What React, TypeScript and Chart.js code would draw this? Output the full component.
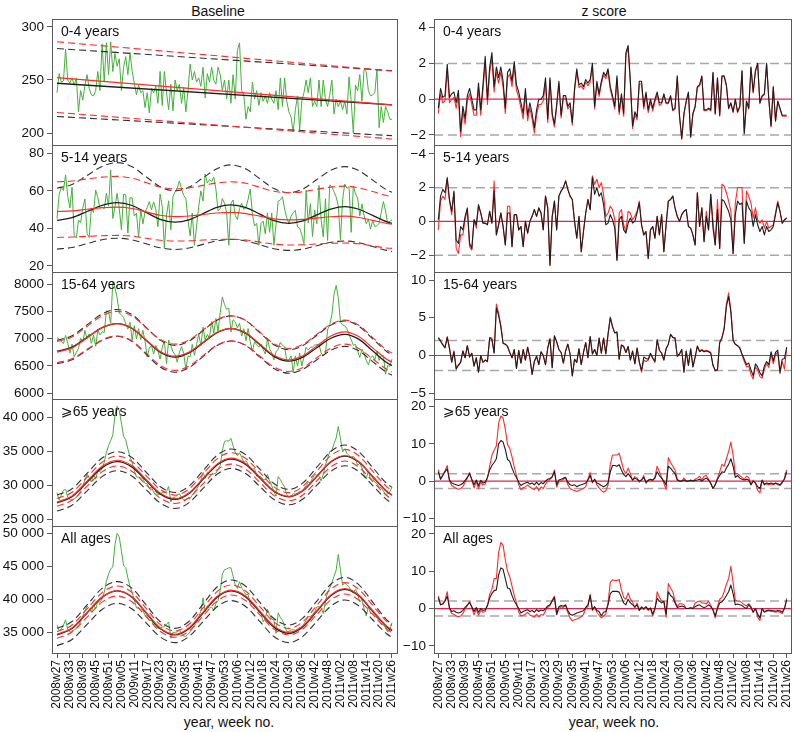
import React, { useEffect, useRef } from "react";
import { Chart, registerables } from "chart.js";
Chart.register(...registerables);

const FONT = '"Liberation Sans", Arial, Helvetica, "DejaVu Sans", sans-serif';

// ---------------- DATA ----------------
const columnTitles = ["Baseline", "z score"];
const xAxisTitle = "year, week no.";
const ageLabels = ["0-4 years", "5-14 years", "15-64 years", "\u2A7E65 years", "All ages"];

const weekTickIndex = [0, 6, 12, 18, 24, 30, 36, 42, 48, 54, 60, 66, 72, 78, 84, 90, 96, 102, 108, 114, 120, 126, 132, 138, 144, 150, 156];
const weekTickLabels = ["2008w27", "2008w33", "2008w39", "2008w45", "2008w51", "2009w05", "2009w11", "2009w17", "2009w23", "2009w29", "2009w35", "2009w41", "2009w47", "2009w53", "2010w06", "2010w12", "2010w18", "2010w24", "2010w30", "2010w36", "2010w42", "2010w48", "2011w02", "2011w08", "2011w14", "2011w20", "2011w26"];

const zThreshold = 2;

// observed weekly counts
const obs04 = [238,256,248,249,279,250,247,252,245,252, 220,240,231,245,255,242,236,235,240,258, 240,284,248,285,255,286,258,275,263,270, 240,262,272,255,276,258,247,236,245,238, 240,224,238,219,242,238,244,228,258,226, 258,238,222,246,221,250,240,246,228,243, 220,240,265,250,258,248,252,244,262,233, 256,248,262,250,246,262,255,240,250,232, 250,228,255,232,278,285,240,236,213,225, 220,248,232,240,226,238,230,235,228,238, 232,228,240,222,252,225,252,230,220,215, 201,222,235,203,230,238,250,238,252,225, 230,225,250,225,250,232,225,236,250,218, 232,225,230,222,230,218,253,230,200,245, 240,255,230,260,258,240,235,236,238,260, 205,225,210,225,220,213,213];
const obs514 = [45.2,58.0,61.8,60.2,68.5,57.0,50.9,61.9,36.3,34.9, 44.4,43.1,50.8,55.7,37.3,35.1,50.9,48.5,60.4,56.4, 50.8,51.3,50.5,58.7,51.9,71.1,45.3,51.5,58.7,50.5, 39.3,58.1,57.9,37.6,56.4,56.2,46.6,48.1,35.5,50.0, 42.4,48.8,51.1,54.3,49.9,54.1,50.4,40.9,58.3,51.8, 29.5,46.9,54.7,39.2,57.0,59.5,61.5,65.3,61.0,57.6, 56.0,44.5,36.0,48.2,31.0,41.2,51.6,60.0,54.6,69.0, 64.1,66.0,64.9,67.4,60.9,49.3,50.5,55.9,53.3,48.4, 31.0,53.3,55.1,46.9,44.7,50.5,53.3,50.1,51.1,55.6, 61.0,47.5,41.3,42.7,31.0,42.6,43.9,37.1,48.3,37.9, 48.2,31.0,42.1,54.5,55.2,56.8,50.3,45.6,42.7,46.5, 48.5,49.6,40.8,40.1,36.7,31.9,60.3,42.8,53.2,35.7, 49.7,42.5,62.9,44.4,35.4,55.8,33.6,63.1,62.3,59.5, 56.8,52.0,34.0,55.4,63.6,61.4,62.2,37.9,62.6,58.4, 56.2,46.7,53.0,46.8,42.5,44.9,39.6,44.2,41.0,41.4, 42.7,48.5,54.3,49.3,42.4,43.9,44.5];
const obs1564 = [7020,6990,6945,6910,7060,6920,6735,6900,6670,6750, 6820,7010,6940,7150,7000,7085,6915,7065,6860,7150, 7070,7130,7113,7510,7495,7280,8040,7930,7750,7463, 7438,7388,7275,7175,7300,6975,7238,7000,7183,6982, 7152,6952,6666,6828,6875,6721,6874,6786,6626,6844, 6958,6546,6974,6877,6760,6705,6570,6749,6855,6731, 6437,6680,6669,6895,6693,6897,7078,6875,7212,6975, 7077,7009,7313,7102,7370,7139,7476,7763,7624,7536, 7560,7121,7347,7309,7197,7284,7047,7181,6965,7185, 6940,6770,6945,6889,6846,6903,6805,6718,7004,6815, 6740,6613,6758,6808,6933,6878,6855,6590,6610,6684, 6380,6685,6497,6738,6498,6661,6842,6792,6841,6846, 6884,6890,6896,6738,6685,6724,7164,7260,7439,7810, 7977,7748,7303,7254,7236,7186,7077,6979,6882,6892, 6780,6656,6806,6728,6602,6524,6648,6690,6613,6767, 6602,6690,6690,6349,6505,6494,6625];
const obs65 = [28900,27830,28550,29280,29400,28220,27860,27810,28000,28190, 28620,29160,29950,30740,31650,31060,30470,31560,30960,32110, 32000,32430,33390,34860,35890,36620,37450,40400,41700,41000, 39210,37210,36730,35360,34200,33380,32170,31230,31200,31110, 30950,30290,30200,29540,29730,28930,29090,28600,28720,28900, 28910,29090,29810,27540,28200,28200,28510,28770,28120,27830, 27850,28100,28030,28540,28980,29430,29930,30740,31890,31010, 31890,31510,31630,31670,31790,32290,32910,35140,36460,36590, 36540,36950,35850,34900,34360,34810,34130,33380,33620,33100, 32450,32340,32490,31340,31360,31250,30830,30820,31620,30660, 29910,29105,28390,31270,30850,30240,29720,28590,28290,28430, 28740,28700,28830,29090,29100,29550,29940,30390,30420,31040, 31570,31500,31310,30660,31640,32950,33950,34980,35170,36150, 36990,38700,36870,34920,35370,34740,34400,34120,34300,33900, 32940,33260,32600,31600,30960,32120,30940,30930,30470,30270, 29740,29600,29140,28650,28720,29020,29700];
const obsAll = [36100,35250,35490,36060,36890,35400,35000,35250,35350,35560, 35990,36620,37440,38230,38970,38600,38060,39150,38570,39610, 39580,40060,41040,42720,43800,44590,44920,48260,49980,49450, 47280,45140,44810,43250,41950,41040,39930,38690,38630,38490, 38270,37590,37430,36760,36840,36190,36070,35600,35570,35810, 35830,36210,36570,34110,34990,35000,35050,35410,34790,34410, 34390,34690,35090,35540,36000,36480,37390,38200,40210,38090, 38990,38670,38810,38280,39360,39830,41360,43840,44490,44580, 44760,44780,43510,42170,41640,42670,41740,41220,40700,40720, 39270,39490,38930,38920,38030,38010,36580,37180,38450,37660, 36990,36890,34830,37950,37250,36830,35910,35140,35110,35350, 35400,35290,35440,35700,35740,36280,36830,37330,37400,37640, 38130,38840,38880,38690,37840,39630,41110,41720,42530,43470, 44430,46800,44390,42150,42470,42150,41840,41300,40910,41540, 40840,39590,39990,38540,37490,38900,37860,37860,37560,37150, 36730,36320,36090,35680,35060,35420,36470];

// baseline fits (read at knot weeks)
const trendKnots = [0, 156];
const fit04Red = [252.2, 226.6];
const fit04RedUp = [286.0, 258.4];
const fit04RedLo = [219.4, 194.4];
const fit04Black = [246.9, 226.6];
const fit04BlackUp = [279.7, 258.7];
const fit04BlackLo = [215.6, 197.5];

const seasonKnots = [0, 7, 14, 21, 28, 35, 41.5, 48, 55, 61.5, 68, 74.5, 81, 88, 94.5, 101, 108, 114.5, 121, 127.5, 134, 140.5, 147, 153.5, 156];

const fit514Red = [49.0,49.3,50.2,51.0,51.3,50.6,48.8,47.0,46.3,46.6,47.4,48.2,48.5,47.9,46.5,45.1,44.5,44.8,45.5,46.2,46.5,45.8,44.3,42.7,42.3];
const fit514RedUp = [64.8,65.2,66.3,67.3,67.7,66.7,64.4,62.0,61.0,61.6,62.9,64.2,64.8,64.0,61.9,59.8,59.0,59.5,60.8,62.0,62.5,61.6,59.6,57.5,57.1];
const fit514RedLo = [35.2,35.4,35.8,36.1,36.3,35.9,34.8,33.7,33.3,33.4,33.8,34.1,34.2,33.8,32.7,31.6,31.2,31.3,31.7,32.1,32.2,31.8,30.7,29.6,29.4];
const fit514Black = [44.3,45.7,49.0,52.3,53.7,52.2,48.5,44.8,43.3,44.6,47.9,51.2,52.5,51.1,47.6,44.1,42.7,44.0,47.2,50.3,51.6,50.2,46.9,43.6,42.7];
const fit514BlackUp = [61.4,63.4,68.2,73.0,75.0,72.8,67.5,62.2,60.0,62.0,66.9,71.8,73.8,71.6,66.4,61.2,59.0,61.0,66.0,70.9,72.9,70.8,65.7,60.5,59.2];
const fit514BlackLo = [29.0,29.8,31.9,34.0,34.8,33.9,31.8,29.7,28.8,29.6,31.5,33.4,34.2,33.3,31.3,29.2,28.3,29.0,30.8,32.6,33.3,32.4,30.4,28.3,27.7];

const fit1564Red = [6755,6831,7016,7200,7276,7189,6978,6767,6680,6754,6935,7116,7190,7105,6900,6695,6610,6685,6867,7048,7123,7038,6832,6625,6573];
const fit1564RedUp = [6950,7030,7225,7420,7500,7412,7200,6988,6900,6976,7160,7344,7420,7332,7120,6908,6820,6896,7080,7264,7340,7247,7020,6793,6736];
const fit1564RedLo = [6560,6632,6805,6978,7050,6958,6735,6512,6420,6499,6690,6881,6960,6878,6680,6482,6400,6473,6650,6827,6900,6821,6630,6439,6391];
const fit1564Black = [6770,6844,7023,7202,7276,7187,6970,6752,6663,6739,6924,7108,7184,7097,6887,6676,6589,6661,6835,7008,7080,6992,6778,6563,6509];
const fit1564BlackUp = [6970,7052,7252,7452,7534,7438,7206,6973,6877,6956,7147,7338,7417,7327,7108,6888,6798,6875,7062,7248,7325,7229,6998,6766,6707];
const fit1564BlackLo = [6540,6613,6792,6970,7043,6947,6715,6482,6386,6469,6672,6874,6957,6871,6663,6454,6368,6440,6614,6787,6859,6777,6580,6382,6332];

const fit65Red = [27500,28405,30600,32795,33700,32868,30850,28832,28000,28876,31000,33124,34000,33175,31175,29175,28350,29233,31375,33517,34400,33502,31325,29148,28600];
const fit65RedUp = [28050,28965,31185,33405,34320,33476,31430,29384,28540,29455,31675,33895,34810,33947,31855,29763,28900,29836,32105,34374,35310,34367,32080,29793,29218];
const fit65RedLo = [26900,27767,29870,31973,32840,32031,30070,28109,27300,28151,30215,32279,33130,32337,30415,28493,27700,28558,30640,32722,33580,32707,30590,28473,27941];
const fit65Black = [27400,28290,30450,32610,33500,32680,30700,28720,27900,28770,30885,32998,33870,33055,31080,29105,28290,29170,31305,33440,34320,33425,31255,29085,28540];
const fit65BlackUp = [28540,29477,31750,34023,34960,34080,31945,29810,28930,29869,32145,34421,35360,34487,32370,30253,29380,30339,32665,34991,35950,34979,32625,30271,29679];
const fit65BlackLo = [26170,27043,29160,31277,32150,31334,29355,27376,26560,27426,29525,31624,32490,31705,29800,27895,27110,27954,30000,32046,32890,32030,29945,27860,27336];

const fitAllRed = [34700,35664,38000,40336,41300,40336,38000,35664,34700,35678,38050,40422,41400,40466,38200,35934,35000,35964,38300,40636,41600,40636,38300,35964,35376];
const fitAllRedUp = [35100,36110,38560,41010,42020,41024,38610,36196,35200,36218,38685,41152,42170,41211,38885,36559,35600,36612,39065,41518,42530,41526,39090,36654,36042];
const fitAllRedLo = [34100,35034,37300,39566,40500,39588,37375,35162,34250,35186,37455,39724,40660,39775,37630,35485,34600,35505,37700,39895,40800,39895,37700,35505,34953];
const fitAllBlack = [34600,35572,37930,40288,41260,40288,37930,35572,34600,35572,37930,40288,41260,40324,38055,35786,34850,35821,38175,40529,41500,40532,38185,35838,35248];
const fitAllBlackUp = [35600,36634,39140,41646,42680,41646,39140,36634,35600,36670,39265,41860,42930,41933,39515,37097,36100,37156,39715,42274,43330,42231,39565,36899,36229];
const fitAllBlackLo = [32980,33917,36190,38463,39400,38530,36420,34310,33440,34369,36620,38871,39800,38871,36620,34369,33440,34383,36670,38957,39900,39024,36900,34776,34242];

// z scores
const z04Black = [-0.5,0.6,0.1,0.2,1.95,0.1,0.3,0.4,-0.2,0.5, -1.8,-0.4,-1.1,0.2,0.6,0.0,-0.6,-0.6,0.9,-0.6, 0.8,2.4,0.0,1.8,2.6,0.7,1.8,1.2,1.8,1.0, -0.5,1.5,1.7,1.0,2.1,0.8,0.4,-0.2,-0.8,0.6, -0.9,-0.2,-0.8,-1.6,-0.6,0.0,0.0,0.2,1.2,-1.1, 1.2,-0.8,-1.4,-0.3,1.0,-0.9,0.2,0.2,-0.4,-0.2, -1.3,0.6,1.7,0.8,0.9,0.7,1.1,0.9,1.1,2.0, -0.4,1.0,0.3,1.0,1.5,1.3,1.7,0.7,0.2,-0.4, 1.3,-0.7,0.3,-0.8,2.6,3.0,1.0,-1.5,-0.7,-1.0, 1.0,1.0,-0.4,0.4,-0.6,0.0,-0.5,0.0,0.4,-0.2, -0.2,0.3,-0.2,-0.2,0.2,-0.6,-0.5,1.3,-0.9,-2.2, -0.8,-0.1,0.4,-2.1,-0.8,-0.4,0.7,0.8,1.3,-0.6, -0.6,-0.5,-0.6,1.5,-0.8,1.2,-0.9,1.3,1.3,0.8, -0.5,-0.2,-0.7,0.0,-0.7,-0.4,1.6,-1.9,-0.1,-0.5, 1.8,0.4,1.6,2.0,-0.2,0.2,0.3,2.0,0.0,-1.5, 0.7,-1.2,-0.1,-0.5,-0.9,-0.9,-0.9];
const z04Red = [-0.8,0.3,-0.2,-0.1,1.65,-0.2,0.0,0.1,-0.5,0.2, -2.1,-0.7,-1.4,-0.1,0.3,-0.3,-0.9,-0.9,0.6,-0.9, 0.5,2.1,-0.3,1.5,2.3,0.4,1.5,0.9,1.5,0.7, -0.8,1.2,1.4,0.7,1.8,0.5,0.1,-0.5,-1.1,0.3, -1.2,-0.5,-1.1,-1.9,-0.9,-0.3,-0.3,-0.1,0.9,-1.3, 1.05,-0.95,-1.55,-0.45,0.85,-1.05,0.05,0.05,-0.55,-0.35, -1.45,0.45,1.55,0.65,0.75,0.55,0.95,0.75,0.95,1.85, -0.55,0.85,0.15,0.85,1.35,1.15,1.55,0.55,0.05,-0.55, 1.15,-0.85,0.15,-0.95,2.45,2.85,0.85,-1.65,-0.85,-1.15, 0.85,0.85,-0.55,0.25,-0.75,-0.15,-0.65,-0.15,0.25,-0.35, -0.25,0.25,-0.25,-0.25,0.15,-0.65,-0.55,1.25,-0.95,-2.25, -0.85,-0.15,0.35,-2.15,-0.85,-0.45,0.65,0.75,1.25,-0.65, -0.65,-0.55,-0.65,1.45,-0.85,1.15,-0.95,1.25,1.25,0.75, -0.55,-0.25,-0.75,-0.05,-0.75,-0.45,1.55,-1.95,-0.15,-0.55, 1.75,0.35,1.55,1.95,-0.25,0.15,0.25,1.95,-0.05,-1.55, 0.65,-1.25,-0.15,-0.55,-0.95,-0.95,-0.95];

const z514Black = [0.1,1.5,1.9,1.7,2.6,1.3,0.6,1.8,-1.1,-1.3, -0.3,-0.5,0.3,0.8,-1.3,-1.6,0.1,-0.2,1.0,0.5, -0.1,-0.1,-0.2,0.6,-0.1,1.8,-0.8,-0.2,0.5,-0.3, -1.4,0.5,0.5,-1.5,0.4,0.4,-0.5,-0.3,-1.5,0.0, -0.7,0.0,0.3,0.7,0.3,0.8,0.5,-0.5,1.5,0.8, -2.6,0.3,1.2,-0.5,1.5,1.8,2.0,2.4,1.9,1.5, 1.3,0.0,-1.0,0.3,-1.8,-0.6,0.5,1.3,0.7,2.6, 1.6,2.0,1.5,1.7,1.0,-0.2,-0.1,0.4,0.1,-0.4, -2.3,0.1,0.3,-0.5,-0.7,-0.1,0.2,-0.1,0.0,0.5, 1.1,-0.2,-0.8,-0.6,-2.2,-0.5,-0.3,-1.0,0.3,-0.8, 0.4,-1.8,-0.2,1.2,1.3,1.5,0.8,0.3,0.0,0.4, 0.6,0.7,-0.3,-0.4,-0.8,-1.4,1.7,-0.3,0.8,-1.2, 0.3,-0.5,1.6,-0.4,-1.4,0.7,-1.6,1.3,1.2,0.9, 0.6,0.1,-1.9,0.4,1.2,1.0,1.1,-1.3,1.2,0.8, 0.6,-0.3,0.4,-0.2,-0.6,-0.3,-0.8,-0.3,-0.6,-0.5, -0.3,0.4,1.1,0.6,-0.1,0.1,0.2];
const z514Red = [-0.5,1.2,1.5,1.3,2.5,1.2,0.4,1.7,-1.6,-1.9, -0.8,-0.8,0.1,0.7,-1.5,-1.7,0.1,-0.4,0.9,0.5, -0.1,-0.1,-0.2,0.6,-0.1,2.4,-0.8,-0.2,0.5,-0.3, -1.4,0.9,0.9,-1.5,0.4,0.4,-0.5,-0.3,-1.5,0.0, -0.7,0.0,0.3,0.7,0.3,0.8,0.5,-0.5,1.5,0.8, -2.6,0.3,1.2,-0.5,1.5,1.8,2.0,2.4,1.9,1.5, 1.3,0.0,-1.0,0.3,-1.8,-0.6,0.5,1.3,0.7,2.7, 2.2,2.5,2.0,2.3,1.6,0.3,0.5,0.9,0.7,0.1, -2.3,0.5,0.7,-0.2,-0.6,0.6,0.5,0.1,0.3,0.6, 1.2,-0.2,-0.8,-0.6,-2.2,-0.5,-0.3,-1.0,0.3,-0.8, 0.4,-1.8,-0.2,1.2,1.3,1.5,0.8,0.3,0.0,0.4, 0.6,0.7,-0.3,-0.4,-0.8,-1.4,1.7,-0.3,0.8,-1.2, 0.6,-0.5,1.6,0.0,-1.4,1.3,-1.6,2.2,2.1,1.7, 1.2,0.6,-1.9,1.1,2.0,2.0,2.0,-1.3,1.8,1.5, 1.1,0.2,0.8,0.1,-0.1,0.1,-0.4,0.0,-0.4,-0.3, -0.2,0.5,1.2,0.6,-0.1,0.1,0.2];

const z1564Black = [2.3,1.9,1.4,1.0,2.4,0.9,-0.9,0.5,-1.8,-1.3, -0.9,0.6,-0.3,1.3,-0.2,0.3,-1.4,-0.3,-2.2,0.0, -0.9,-0.6,-0.8,2.3,2.1,0.3,6.3,5.3,3.8,1.6, 1.5,1.2,0.4,-0.3,0.8,-1.7,0.7,-1.0,0.8,-0.6, 1.1,-0.3,-2.5,-0.8,-0.1,-1.2,0.5,0.0,-1.2,1.0, 2.2,-1.6,2.6,1.8,0.8,0.4,-1.0,0.6,1.5,0.2, -2.7,-0.5,-0.9,0.9,-1.2,0.4,1.7,-0.3,2.5,0.2, 0.8,0.0,2.3,0.3,2.3,0.2,2.8,5.0,3.8,3.0, 3.1,-0.5,1.4,1.2,0.4,1.2,-0.6,0.6,-1.1,1.0, -0.8,-2.0,-0.2,-0.4,-0.5,0.3,-0.3,-0.8,2.1,0.7, 0.3,-0.6,0.9,1.5,2.8,2.4,2.3,-0.1,0.2,0.8, -2.2,0.6,-1.3,0.9,-1.5,-0.2,1.2,0.5,0.7,0.5, 0.6,0.5,0.3,-1.3,-2.0,-1.9,1.7,2.3,3.5,6.5, 7.8,5.8,2.0,1.5,1.3,1.0,0.2,-0.5,-1.2,-1.0, -1.9,-2.7,-1.1,-1.5,-2.3,-2.7,-1.4,-0.8,-1.2,0.5, -0.7,0.4,0.7,-2.2,-0.5,-0.4,1.1];
const z1564Red = [2.4,2.0,1.5,1.1,2.5,1.0,-0.8,0.6,-1.7,-1.2, -0.9,0.6,-0.3,1.3,-0.2,0.3,-1.4,-0.3,-2.2,0.0, -0.9,-0.6,-0.8,2.4,2.3,0.4,6.8,5.6,4.0,1.7, 1.5,1.2,0.4,-0.3,0.8,-1.7,0.7,-1.0,0.8,-0.6, 1.1,-0.3,-2.5,-0.8,-0.1,-1.2,0.5,0.0,-1.2,1.0, 2.2,-1.6,2.6,1.8,0.8,0.4,-1.0,0.6,1.5,0.2, -2.7,-0.5,-0.9,0.9,-1.2,0.4,1.7,-0.3,2.5,0.2, 0.8,0.0,2.3,0.3,2.3,0.2,2.8,5.1,3.9,3.0, 3.1,-0.5,1.4,1.2,0.4,1.2,-0.6,0.6,-1.1,1.0, -0.9,-2.2,-0.6,-0.8,-0.6,0.2,-0.4,-0.9,2.0,0.7, 0.3,-0.6,0.9,1.5,2.8,2.4,2.3,-0.1,0.2,0.8, -2.2,0.6,-1.3,0.9,-1.5,-0.2,1.3,0.6,0.8,0.6, 0.7,0.6,0.4,-1.3,-2.0,-1.9,1.8,2.4,3.7,6.8, 8.3,6.0,2.1,1.5,1.3,1.0,0.1,-0.8,-1.5,-1.4, -2.5,-3.1,-1.5,-1.9,-2.8,-3.0,-1.8,-1.1,-1.6,0.2, -1.1,0.1,0.4,-2.4,-0.8,-1.8,1.0];

const z65Black = [2.5,0.5,1.5,2.5,3.3,0.3,-0.5,-0.8,-1.0,-1.2, -1.0,-0.6,0.2,1.0,2.0,0.5,-1.0,0.3,-1.2,0.2, -0.5,-0.3,1.0,3.0,4.2,5.0,6.0,10.0,10.9,10.5, 8.5,5.8,5.3,3.5,2.0,1.0,-0.3,-1.2,-0.8,-0.5, -0.3,-0.8,-0.5,-1.0,-0.3,-1.0,-0.4,-0.7,0.0,0.5, 0.7,1.2,2.6,-1.0,0.3,0.5,0.8,1.0,-0.3,-1.0, -1.2,-1.0,-1.5,-1.2,-1.0,-0.8,-0.5,0.3,1.5,-0.3, 0.5,-0.5,-0.8,-1.2,-1.5,-1.2,-0.5,2.5,4.2,4.2, 4.0,4.4,3.0,1.8,1.2,2.0,1.2,0.3,0.8,0.5, 0.0,0.3,1.0,-0.3,0.2,0.5,0.3,0.8,2.5,1.5, 0.8,0.0,-1.0,4.0,3.5,2.7,2.0,0.3,0.0,0.0, 0.3,0.0,0.0,0.2,0.0,0.2,0.3,0.5,0.0,0.5, 0.8,0.3,-0.5,-2.0,-1.0,0.5,1.5,2.5,2.3,3.5, 4.5,6.0,4.0,1.0,1.5,0.8,0.5,0.3,0.5,0.3, -1.0,0.0,-0.5,-1.5,-2.0,0.3,-1.0,-0.5,-0.7,-0.5, -0.8,-0.5,-0.7,-1.0,-0.3,0.5,2.5];
const z65Red = [3.0,0.5,1.7,2.8,4.2,0.0,-1.2,-1.6,-1.9,-2.2, -2.0,-1.5,-0.3,0.8,2.3,0.2,-1.8,-0.2,-2.0,-0.3, -1.0,-0.8,0.8,4.0,7.0,8.3,9.5,15.5,17.5,17.0, 14.0,9.8,8.8,6.5,3.8,1.5,-1.0,-2.3,-1.8,-1.5, -1.0,-1.6,-2.0,-2.3,-1.5,-2.5,-1.6,-2.0,-0.8,0.0, 0.5,1.0,3.0,-1.6,-0.2,0.0,0.5,0.8,-1.0,-2.0, -2.3,-2.5,-2.8,-2.5,-2.2,-2.0,-1.5,0.5,2.3,-0.5, 0.5,-1.0,-1.8,-2.5,-3.0,-2.6,-1.0,4.5,7.0,7.0, 7.0,7.5,5.2,3.0,2.0,3.5,2.0,0.2,1.2,0.8, -0.3,0.3,1.5,-0.6,0.2,0.3,0.0,1.2,4.0,2.5, 1.0,-0.5,-2.3,6.3,5.0,4.0,3.0,0.5,0.0,0.0, 0.8,0.0,0.0,0.3,0.0,0.5,0.8,1.3,0.3,1.3, 1.5,0.5,-0.8,-2.0,-1.0,0.8,2.5,4.5,4.0,6.0, 8.0,10.5,7.0,2.0,2.0,1.5,1.0,0.5,1.3,1.0, -1.0,0.2,-0.5,-2.5,-3.2,0.0,-0.7,-0.8,-1.0,-0.8, -1.0,-0.6,-1.0,-1.2,-0.5,0.8,3.0];

const zAllBlack = [3.0,1.0,1.2,2.0,3.3,0.2,-0.8,-0.6,-1.0,-1.2, -1.0,-0.5,0.3,1.0,1.6,0.5,-0.8,0.3,-1.0,0.0, -0.5,-0.3,0.8,2.8,4.0,4.8,5.0,9.0,10.9,10.5, 8.0,5.5,5.3,3.5,2.0,1.0,0.0,-1.2,-0.8,-0.5, -0.3,-0.8,-0.5,-1.0,-0.3,-0.8,-0.4,-0.6,0.0,0.7, 1.0,2.0,3.0,-1.5,0.5,0.8,0.6,1.0,-0.5,-1.5, -1.8,-1.5,-1.2,-1.0,-0.8,-0.6,0.3,1.0,3.5,-0.3, 0.5,-0.5,-0.8,-2.0,-1.0,-0.8,1.0,4.0,4.6,4.6, 4.6,4.4,3.0,1.5,1.0,2.5,1.5,1.0,0.5,1.0, -0.5,0.3,0.0,0.5,-0.3,0.2,-1.5,0.0,2.7,2.0, 1.5,2.0,-1.5,4.5,3.5,3.0,1.5,0.3,0.5,0.7, 0.5,0.0,0.0,0.2,0.0,0.5,0.8,1.0,0.5,0.3, 0.5,1.0,0.5,-0.3,-2.0,0.0,1.5,1.8,2.5,3.5, 4.5,6.3,4.0,1.0,1.2,1.0,0.8,0.3,0.0,1.0, 0.3,-1.0,0.0,-1.5,-2.5,0.0,-1.0,-0.5,-0.4,-0.5, -0.6,-0.7,-0.5,-0.6,-1.0,0.0,2.3];
const zAllRed = [3.3,1.0,1.3,2.3,4.5,0.0,-1.3,-1.6,-2.0,-2.2, -2.0,-1.3,-0.2,0.8,1.9,0.3,-1.7,-0.2,-1.8,-0.5, -1.0,-0.8,0.8,3.8,5.2,8.0,8.0,15.0,17.7,17.0, 13.0,10.0,8.5,6.0,3.5,1.5,-1.0,-2.0,-1.8,-1.5, -1.0,-1.7,-2.0,-2.3,-1.5,-2.2,-1.6,-1.8,-0.6,0.3, 0.8,2.3,3.3,-1.7,0.0,0.5,0.3,0.8,-1.0,-2.5, -3.3,-3.0,-2.8,-2.5,-2.2,-1.6,0.0,0.5,3.8,-0.5, 0.3,-1.0,-1.8,-2.5,-2.0,-1.5,1.5,7.0,7.7,7.5, 7.5,7.8,5.0,3.0,2.5,4.2,2.5,1.8,0.0,1.5, -0.5,0.5,-0.3,0.3,-0.5,0.0,-2.0,-0.3,4.5,3.0, 2.0,1.8,-2.3,6.7,5.5,4.5,2.0,0.5,1.3,1.3, 1.0,0.0,0.0,0.2,0.0,1.5,1.8,2.0,1.5,1.5, 1.2,2.0,0.8,-0.5,-2.5,0.5,2.5,3.0,4.5,6.5, 8.0,11.3,7.0,2.2,2.0,2.0,1.5,1.0,0.7,1.3, 0.5,-1.0,0.0,-2.3,-3.2,0.0,-0.8,-0.8,-0.6,-0.8, -0.8,-1.0,-0.8,-1.0,-1.3,0.0,2.7];

// axis ranges and tick labels
const leftYRange = [[188.7, 307.5], [16.8, 84.4], [5896, 8220], [23964, 42766], [31864, 51100]];
const leftYTicks = [[200, 250, 300], [20, 40, 60, 80], [6000, 6500, 7000, 7500, 8000], [25000, 30000, 35000, 40000], [35000, 40000, 45000, 50000]];
const leftYTickLabels = [["200", "250", "300"], ["20", "40", "60", "80"], ["6000", "6500", "7000", "7500", "8000"], ["25 000", "30 000", "35 000", "40 000"], ["35 000", "40 000", "45 000", "50 000"]];
const rightYRange = [[-2.56, 4.48], [-3.0, 4.53], [-5.76, 11.06], [-12.07, 22.07], [-11.9, 22.1]];
const rightYTicks = [[-2, 0, 2, 4], [-2, 0, 2, 4], [-5, 0, 5, 10], [-10, 0, 10, 20], [-10, 0, 10, 20]];
const rightYTickLabels = [["\u22122", "0", "2", "4"], ["\u22122", "0", "2", "\u22124"], ["\u22125", "0", "5", "10"], ["\u221210", "0", "10", "20"], ["\u221210", "0", "10", "20"]];

// ---------------- STYLE / LAYOUT ----------------
const GREEN = "#44b03a";
const RED = "#ff2b2b";
const BLACK = "#1e1e1e";
const DASHBLACK = "#303030";
const REFGRAY = "#a8a8a8";
const ZERORED = "#dc2452";
const FRAME = "#5a5a5a";
const TEXT = "#111111";

const ROW_TOP = [19, 145, 272, 399, 526];
const ROW_BOTTOM = [145, 272, 399, 526, 653];
const PAD = 8;
const XAXIS_H = 60;
const COLS = [
  { left: 0, width: 400, axisW: 52, padR: 3, xMin: -2.33, xMax: 158.33 },
  { left: 400, width: 394, axisW: 34, padR: 3, xMin: -1.93, xMax: 157.93 },
];

type Pt = { x: number; y: number };
type Series = { data: Pt[]; color: string; width: number; dash?: number[]; order: number; smooth?: boolean };
type PanelSpec = {
  col: number; row: number; label: string;
  yMin: number; yMax: number; yTicks: number[]; yTickLabels: string[];
  series: Series[];
};

const seq = (ys: number[]): Pt[] => ys.map((y, i) => ({ x: i, y }));
const knotPts = (xs: number[], ys: number[]): Pt[] => ys.map((y, i) => ({ x: xs[i], y }));

function leftSeries(obs: number[], knots: number[], f: number[][]): Series[] {
  const [red, redUp, redLo, black, blackUp, blackLo] = f;
  const smooth = knots.length > 2;
  return [
    { data: seq(obs), color: GREEN, width: 1, order: 4 },
    { data: knotPts(knots, black), color: BLACK, width: 1.3, order: 3, smooth },
    { data: knotPts(knots, blackUp), color: DASHBLACK, width: 1.1, dash: [7, 4], order: 3, smooth },
    { data: knotPts(knots, blackLo), color: DASHBLACK, width: 1.1, dash: [7, 4], order: 3, smooth },
    { data: knotPts(knots, red), color: RED, width: 1.2, order: 2, smooth },
    { data: knotPts(knots, redUp), color: RED, width: 1.1, dash: [7, 4], order: 2, smooth },
    { data: knotPts(knots, redLo), color: RED, width: 1.1, dash: [7, 4], order: 2, smooth },
  ];
}

function rightSeries(zRed: number[], zBlack: number[]): Series[] {
  const c = COLS[1];
  const hline = (y: number): Pt[] => [{ x: c.xMin, y }, { x: c.xMax, y }];
  return [
    { data: hline(zThreshold), color: REFGRAY, width: 1.5, dash: [9, 5], order: 7 },
    { data: hline(-zThreshold), color: REFGRAY, width: 1.5, dash: [9, 5], order: 7 },
    { data: hline(0), color: ZERORED, width: 1.2, order: 6 },
    { data: seq(zRed), color: RED, width: 1.1, order: 5 },
    { data: seq(zBlack), color: BLACK, width: 1.1, order: 4 },
  ];
}

const leftData: [number[], number[], number[][]][] = [
  [obs04, trendKnots, [fit04Red, fit04RedUp, fit04RedLo, fit04Black, fit04BlackUp, fit04BlackLo]],
  [obs514, seasonKnots, [fit514Red, fit514RedUp, fit514RedLo, fit514Black, fit514BlackUp, fit514BlackLo]],
  [obs1564, seasonKnots, [fit1564Red, fit1564RedUp, fit1564RedLo, fit1564Black, fit1564BlackUp, fit1564BlackLo]],
  [obs65, seasonKnots, [fit65Red, fit65RedUp, fit65RedLo, fit65Black, fit65BlackUp, fit65BlackLo]],
  [obsAll, seasonKnots, [fitAllRed, fitAllRedUp, fitAllRedLo, fitAllBlack, fitAllBlackUp, fitAllBlackLo]],
];
const rightData: [number[], number[]][] = [
  [z04Red, z04Black], [z514Red, z514Black], [z1564Red, z1564Black], [z65Red, z65Black], [zAllRed, zAllBlack],
];

const PANELS: PanelSpec[] = [];
for (let r = 0; r < 5; r++) {
  const [obs, knots, fits] = leftData[r];
  PANELS.push({
    col: 0, row: r, label: ageLabels[r],
    yMin: leftYRange[r][0], yMax: leftYRange[r][1], yTicks: leftYTicks[r], yTickLabels: leftYTickLabels[r],
    series: leftSeries(obs, knots, fits),
  });
  const [zr, zb] = rightData[r];
  PANELS.push({
    col: 1, row: r, label: ageLabels[r],
    yMin: rightYRange[r][0], yMax: rightYRange[r][1], yTicks: rightYTicks[r], yTickLabels: rightYTickLabels[r],
    series: rightSeries(zr, zb),
  });
}

const framePlugin = {
  id: "frame",
  afterDatasetsDraw(chart: any, _args: any, opts: any) {
    const { ctx, chartArea: a } = chart;
    ctx.save();
    ctx.strokeStyle = FRAME;
    ctx.lineWidth = 1;
    ctx.strokeRect(a.left + 0.5, a.top + 0.5, a.right - a.left, a.bottom - a.top);
    ctx.fillStyle = TEXT;
    ctx.font = `14px ${FONT}`;
    ctx.textAlign = "left";
    ctx.textBaseline = "middle";
    ctx.fillText(opts.label, a.left + 9, a.top + 13);
    ctx.restore();
  },
};

function geometry(p: PanelSpec) {
  const c = COLS[p.col];
  const bottom = p.row === 4;
  const top = ROW_TOP[p.row] - PAD;
  const plotH = ROW_BOTTOM[p.row] - ROW_TOP[p.row];
  const h = PAD + plotH + (bottom ? XAXIS_H : PAD);
  return { left: c.left, top, w: c.width, h, bottom };
}

function buildConfig(p: PanelSpec): any {
  const c = COLS[p.col];
  const g = geometry(p);
  return {
    type: "line",
    data: {
      datasets: p.series.map((s) => ({
        data: s.data,
        borderColor: s.color,
        backgroundColor: s.color,
        borderWidth: s.width,
        borderDash: s.dash || [],
        pointRadius: 0,
        pointHoverRadius: 0,
        fill: false,
        tension: 0,
        cubicInterpolationMode: s.smooth ? "monotone" : "default",
        order: s.order,
        borderCapStyle: "butt",
        borderJoinStyle: "round",
      })),
    },
    options: {
      animation: false,
      responsive: false,
      maintainAspectRatio: false,
      devicePixelRatio: 1,
      events: [],
      layout: { padding: { top: PAD, bottom: g.bottom ? 0 : PAD, left: 0, right: c.padR } },
      plugins: {
        legend: { display: false },
        tooltip: { enabled: false },
        title: { display: false },
        frame: { label: p.label },
      },
      scales: {
        x: {
          type: "linear",
          min: c.xMin,
          max: c.xMax,
          bounds: "data",
          display: g.bottom,
          afterBuildTicks: (s: any) => { s.ticks = weekTickIndex.map((v) => ({ value: v })); },
          afterFit: (s: any) => {
            if (g.bottom) s.height = XAXIS_H;
            s.paddingLeft = 0;
            s.paddingRight = 0;
          },
          ticks: {
            autoSkip: false,
            minRotation: 90,
            maxRotation: 90,
            padding: 2,
            color: TEXT,
            font: { family: FONT, size: 12 },
            callback: (_v: any, i: number) => weekTickLabels[i],
          },
          grid: { display: true, drawOnChartArea: false, drawTicks: true, tickLength: 5, color: FRAME },
          border: { display: false },
        },
        y: {
          type: "linear",
          min: p.yMin,
          max: p.yMax,
          bounds: "data",
          afterBuildTicks: (s: any) => { s.ticks = p.yTicks.map((v) => ({ value: v })); },
          afterFit: (s: any) => { s.width = c.axisW; s.paddingTop = 0; s.paddingBottom = 0; },
          ticks: {
            padding: 3,
            color: TEXT,
            font: { family: FONT, size: 13.5 },
            callback: (_v: any, i: number) => p.yTickLabels[i],
          },
          grid: { display: true, drawOnChartArea: false, drawTicks: true, tickLength: 5, color: FRAME },
          border: { display: false },
        },
      },
    },
    plugins: [framePlugin],
  };
}

function Panel({ spec }: { spec: PanelSpec }) {
  const ref = useRef<HTMLCanvasElement | null>(null);
  const g = geometry(spec);
  useEffect(() => {
    const el = ref.current;
    if (!el) return;
    const chart = new Chart(el, buildConfig(spec));
    return () => chart.destroy();
  }, [spec]);
  return (
    <canvas
      ref={ref}
      width={g.w}
      height={g.h}
      style={{ position: "absolute", left: g.left, top: g.top, width: g.w, height: g.h }}
    />
  );
}

function Label({ text, cx, cy, size }: { text: string; cx: number; cy: number; size: number }) {
  return (
    <div
      style={{
        position: "absolute",
        left: cx - 100,
        width: 200,
        top: cy - 9,
        height: 18,
        lineHeight: "18px",
        textAlign: "center",
        fontFamily: FONT,
        fontSize: size,
        color: TEXT,
        whiteSpace: "nowrap",
      }}
    >
      {text}
    </div>
  );
}

export default function App() {
  return (
    <div style={{ position: "absolute", left: 0, top: 0, width: 794, height: 732, background: "#ffffff", overflow: "hidden" }}>
      <Label text={columnTitles[0]} cx={218} cy={11} size={14} />
      <Label text={columnTitles[1]} cx={604} cy={11} size={14} />
      {PANELS.map((p, i) => (
        <Panel key={i} spec={p} />
      ))}
      <Label text={xAxisTitle} cx={229} cy={722} size={14} />
      <Label text={xAxisTitle} cx={614} cy={722} size={14} />
    </div>
  );
}
